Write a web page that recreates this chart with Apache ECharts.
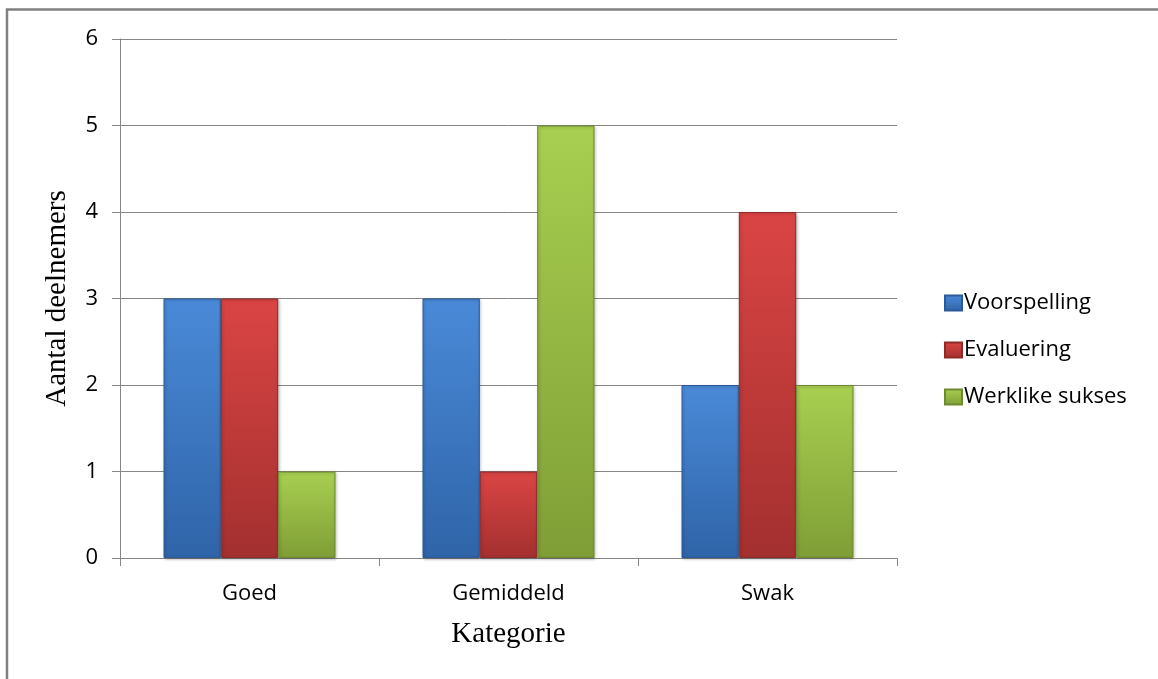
<!DOCTYPE html>
<html>
<head>
<meta charset="utf-8">
<script src="https://cdn.jsdelivr.net/npm/echarts@6/dist/echarts.min.js"></script>
<style>
  html, body { margin: 0; padding: 0; background: #fff; }
  #chart { width: 1158px; height: 679px; }
</style>
</head>
<body>
<div id="chart"></div>
<script>
var categories = ['Goed', 'Gemiddeld', 'Swak'];
var seriesNames = ['Voorspelling', 'Evaluering', 'Werklike sukses'];
var voorspelling = [3, 3, 2];
var evaluering = [3, 1, 4];
var werklikeSukses = [1, 5, 2];
var yTicks = [0, 1, 2, 3, 4, 5, 6];

// top / bottom gradient colours per series
var barColors = [
	['#4a8ad8', '#2f64a8'],
	['#da4544', '#a3302f'],
	['#a8cf50', '#7f9e36']
];
var borderColors = ['#2a5a98', '#8e2a2a', '#6f8a2e'];

var myChart = echarts.init(document.getElementById('chart'));

function makeSeries(name, data, i) {
	return {
		name: name,
		type: 'bar',
		data: data,
		barGap: '0%',
		barCategoryGap: '33.6%',
		itemStyle: {
			color: new echarts.graphic.LinearGradient(0, 0, 0, 1, [
				{ offset: 0, color: barColors[i][0] },
				{ offset: 1, color: barColors[i][1] }
			]),
			borderColor: borderColors[i],
			borderWidth: 1,
			shadowColor: 'rgba(0,0,0,0.25)',
			shadowBlur: 3,
			shadowOffsetX: 1,
			shadowOffsetY: 1
		}
	};
}

var option = {
	animation: false,
	backgroundColor: '#fff',
	graphic: [{
		type: 'rect',
		shape: { x: 7, y: 9.5, width: 1400, height: 900 },
		style: { fill: 'none', stroke: '#808080', lineWidth: 2.5 },
		silent: true
	}],
	legend: {
		orient: 'vertical',
		left: 939,
		top: 287,
		itemWidth: 17,
		itemHeight: 15,
		itemGap: 25,
		icon: 'rect',
		textStyle: {
			fontFamily: 'Open Sans',
			fontSize: 22,
			color: '#000',
			padding: [0, 0, 0, -3]
		},
		data: seriesNames
	},
	grid: {
		left: 120,
		right: 261,
		top: 39,
		bottom: 121
	},
	xAxis: {
		type: 'category',
		data: categories,
		name: 'Kategorie',
		nameLocation: 'middle',
		nameGap: 62,
		nameTextStyle: {
			fontFamily: 'Liberation Serif',
			fontSize: 29,
			color: '#000'
		},
		axisLine: { lineStyle: { color: '#868686', width: 1 } },
		axisTick: { show: true, length: 8, lineStyle: { color: '#868686' } },
		axisLabel: {
			fontFamily: 'Open Sans',
			fontSize: 22,
			color: '#000',
			margin: 25
		}
	},
	yAxis: {
		type: 'value',
		min: yTicks[0],
		max: yTicks[yTicks.length - 1],
		interval: 1,
		name: 'Aantal deelnemers',
		nameLocation: 'middle',
		nameGap: 48,
		nameTextStyle: {
			fontFamily: 'Liberation Serif',
			fontSize: 29,
			color: '#000'
		},
		axisLine: { show: true, lineStyle: { color: '#868686', width: 1 } },
		axisTick: { show: true, length: 8, lineStyle: { color: '#868686' } },
		axisLabel: {
			fontFamily: 'Open Sans',
			fontSize: 22,
			color: '#000',
			margin: 22
		},
		splitLine: { lineStyle: { color: '#868686', width: 1 } }
	},
	series: [
		makeSeries(seriesNames[0], voorspelling, 0),
		makeSeries(seriesNames[1], evaluering, 1),
		makeSeries(seriesNames[2], werklikeSukses, 2)
	]
};
myChart.setOption(option);
</script>
</body>
</html>
